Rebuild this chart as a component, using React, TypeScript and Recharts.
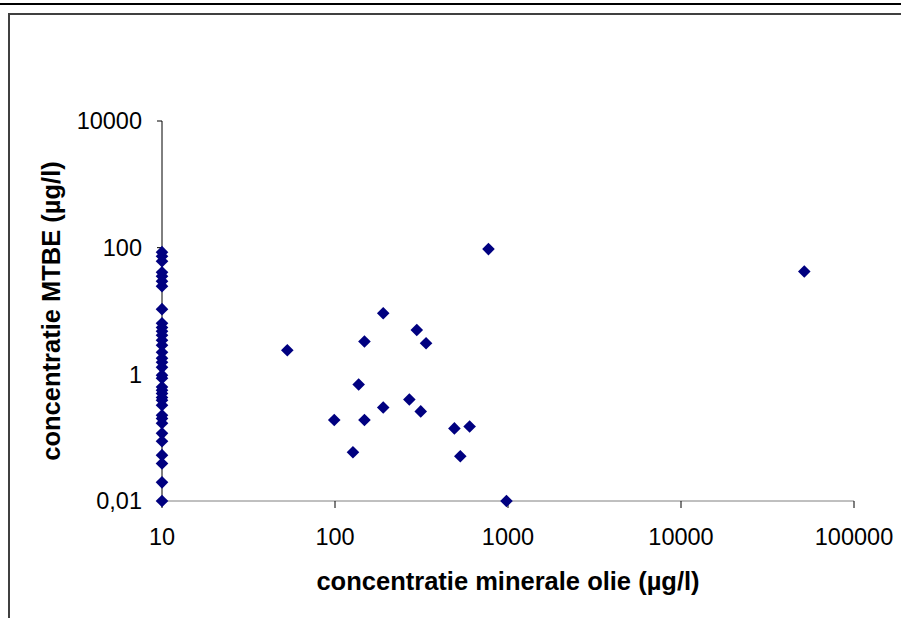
import React from 'react';
import { ScatterChart, Scatter, XAxis, YAxis, Label } from 'recharts';

// MTBE values (µg/l) measured where mineral oil was at its detection limit of 10 µg/l
const oilDetectionLimit = 10;
const mtbeAtOilLimit = [85, 73, 61, 41, 35.5, 29.6, 24.7, 10.7, 6.4, 5.5, 4.8, 4.15, 3.46, 2.88, 2.23, 1.8, 1.55, 1.29, 0.97, 0.87, 0.63, 0.56, 0.5, 0.43, 0.39, 0.325, 0.226, 0.2, 0.169, 0.117, 0.088, 0.053, 0.039, 0.0197, 0.01];

// Other samples: mineral oil (µg/l) and MTBE (µg/l)
const oilValues = [771, 190, 297, 148, 336, 53, 137, 269, 190, 313, 99, 148, 490, 600, 127, 530, 980, 51600];
const mtbeValues = [95, 9.2, 5.0, 3.3, 3.1, 2.4, 0.69, 0.40, 0.30, 0.26, 0.19, 0.19, 0.14, 0.15, 0.059, 0.051, 0.01, 42];

const xTicks = [10, 100, 1000, 10000, 100000];
const yTicks = [0.01, 1, 100, 10000];

const xTitle = 'concentratie minerale olie (µg/l)';
const yTitle = 'concentratie MTBE (µg/l)';

const points = [
  ...mtbeAtOilLimit.map((y) => ({ x: oilDetectionLimit, y })),
  ...oilValues.map((x, i) => ({ x, y: mtbeValues[i] })),
];

const FONT = '"Liberation Sans", Arial, sans-serif';
const fmt = (v: number) => String(v).replace('.', ',');

const Diamond = (props: any) => {
  const { cx, cy } = props;
  const r = 6.3;
  return (
    <path
      d={`M${cx},${cy - r}L${cx + r},${cy}L${cx},${cy + r}L${cx - r},${cy}Z`}
      fill="#000080"
    />
  );
};

export default function App() {
  return (
    <div style={{ position: 'absolute', left: 0, top: 0, width: 901, height: 618, background: '#fff' }}>
      <svg width={901} height={618} style={{ position: 'absolute', left: 0, top: 0 }}>
        <rect x={0} y={3} width={901} height={2} fill="#000" />
        <rect x={8} y={13} width={893} height={2} fill="#404040" />
        <rect x={8} y={13} width={2} height={605} fill="#404040" />
      </svg>
      <div style={{ position: 'absolute', left: 0, top: 0 }}>
        <ScatterChart width={901} height={618} margin={{ top: 121, right: 47, bottom: 57, left: 62 }}>
          <XAxis
            type="number"
            dataKey="x"
            scale="log"
            domain={[10, 100000]}
            ticks={xTicks}
            height={60}
            tickSize={7}
            tickMargin={20}
            tickFormatter={fmt}
            axisLine={{ stroke: '#808080', strokeWidth: 1 }}
            tickLine={{ stroke: '#000', strokeWidth: 1 }}
            tick={{ fill: '#000', fontSize: 23.5, fontFamily: FONT }}
          >
            <Label
              content={(p: any) => {
                const vb = p.viewBox || {};
                return (
                  <text
                    x={vb.x + vb.width / 2}
                    y={vb.y + 89}
                    textAnchor="middle"
                    fontFamily={FONT}
                    fontSize={25.5}
                    fontWeight="bold"
                    fill="#000"
                  >
                    {xTitle}
                  </text>
                );
              }}
            />
          </XAxis>
          <YAxis
            type="number"
            dataKey="y"
            scale="log"
            domain={[0.01, 10000]}
            ticks={yTicks}
            width={100}
            tickSize={5}
            tickMargin={15}
            tickFormatter={fmt}
            axisLine={{ stroke: '#000', strokeWidth: 1 }}
            tickLine={{ stroke: '#000', strokeWidth: 1 }}
            tick={{ fill: '#000', fontSize: 23.5, fontFamily: FONT }}
          >
            <Label
              content={(p: any) => {
                const vb = p.viewBox || {};
                const cx = 60;
                const cy = vb.y + vb.height / 2;
                return (
                  <text
                    x={cx}
                    y={cy}
                    transform={`rotate(-90 ${cx} ${cy})`}
                    textAnchor="middle"
                    fontFamily={FONT}
                    fontSize={25.5}
                    fontWeight="bold"
                    fill="#000"
                  >
                    {yTitle}
                  </text>
                );
              }}
            />
          </YAxis>
          <Scatter data={points} shape={Diamond} isAnimationActive={false} />
        </ScatterChart>
      </div>
    </div>
  );
}
